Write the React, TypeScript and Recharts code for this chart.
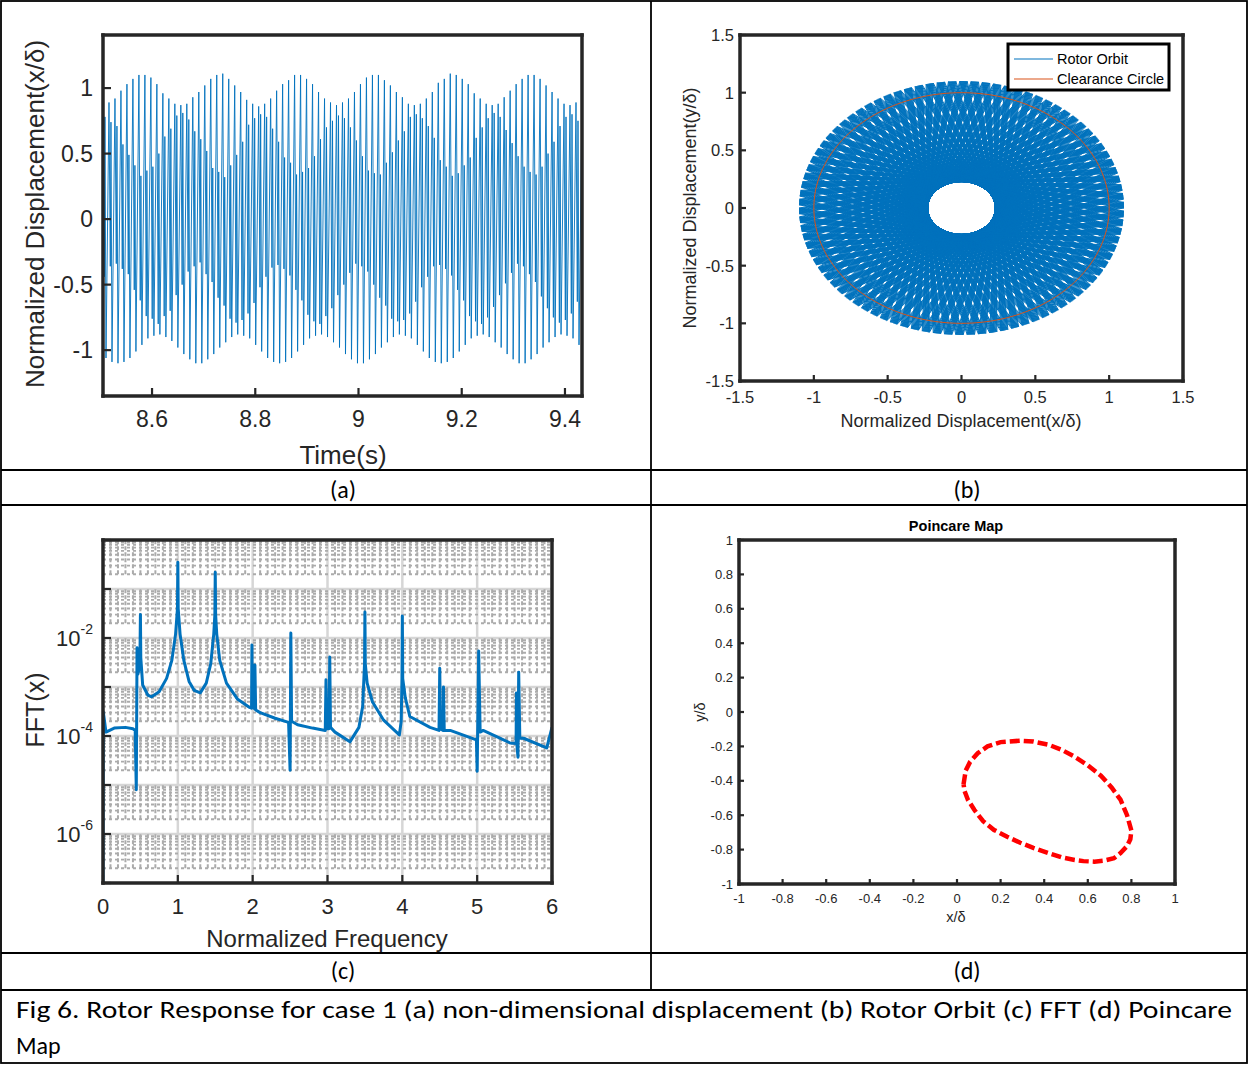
import React from "react";
import { Line, LineChart, XAxis, YAxis } from "recharts";

const INK = "#262626";
const BLUE = "#0072BD";
const ORANGE = "#D95319";
const AXIS_FONT = "'Liberation Sans', Arial, Helvetica, sans-serif";
const DOC_FONT = "Carlito, Calibri, 'Open Sans', 'Noto Sans', sans-serif";

// =============================================================================
// (a) displacement trace — per-cycle extremes
// =============================================================================

const T_START = 8.505;
const T_END = 9.433;
const TIME_TICKS = [8.6, 8.8, 9, 9.2, 9.4];
const DISP_TICKS = [-1, -0.5, 0, 0.5, 1];

// top of each cycle (81 values: one more than the troughs to close the trace)
const PEAKS = [
  0.87, 0.89, 0.92, 0.98, 1.03, 1.07, 1.1, 1.1, 1.08, 1.03, 0.96, 0.92, 0.88,
  0.87, 0.88, 0.93, 0.97, 1.02, 1.07, 1.1, 1.11, 1.07, 1.02, 0.97, 0.91, 0.88,
  0.86, 0.88, 0.92, 0.98, 1.03, 1.06, 1.1, 1.1, 1.07, 1.03, 0.97, 0.92, 0.89,
  0.87, 0.89, 0.92, 0.97, 1.03, 1.08, 1.1, 1.1, 1.06, 1.02, 0.97, 0.93, 0.88,
  0.87, 0.88, 0.92, 0.97, 1.04, 1.07, 1.11, 1.1, 1.07, 1.03, 0.96, 0.92, 0.88,
  0.87, 0.88, 0.93, 0.98, 1.03, 1.07, 1.1, 1.1, 1.07, 1.02, 0.97, 0.92, 0.88,
  0.87, 0.89, 0.92,
];

// bottom of each cycle
const TROUGHS = [
  -1.06, -1.09, -1.1, -1.09, -1.06, -1.01, -0.96, -0.91, -0.89, -0.88,
  -0.9, -0.93, -0.98, -1.03, -1.07, -1.1, -1.1, -1.07, -1.03, -0.98,
  -0.94, -0.9, -0.88, -0.89, -0.91, -0.96, -1.01, -1.06, -1.09, -1.1,
  -1.09, -1.06, -1.01, -0.96, -0.91, -0.89, -0.88, -0.9, -0.94, -0.98,
  -1.03, -1.07, -1.1, -1.1, -1.07, -1.03, -0.98, -0.94, -0.9, -0.88,
  -0.89, -0.91, -0.96, -1.01, -1.06, -1.09, -1.1, -1.09, -1.06, -1.01,
  -0.96, -0.91, -0.89, -0.88, -0.9, -0.94, -0.98, -1.03, -1.07, -1.1,
  -1.1, -1.07, -1.03, -0.98, -0.94, -0.9, -0.88, -0.89, -0.91, -0.96,
];

// inner kink on the way down: low turning point, then the partial rebound
const DIPS = [
  -0.44, -0.36, -0.34, -0.38, -0.42, -0.54, -0.62, -0.74, -0.76, -0.8,
  -0.74, -0.7, -0.58, -0.5, -0.4, -0.36, -0.33, -0.42, -0.48, -0.6,
  -0.66, -0.76, -0.79, -0.77, -0.72, -0.64, -0.52, -0.44, -0.37, -0.35,
  -0.38, -0.43, -0.54, -0.62, -0.73, -0.78, -0.8, -0.74, -0.68, -0.58,
  -0.5, -0.41, -0.34, -0.36, -0.4, -0.5, -0.6, -0.66, -0.76, -0.78,
  -0.77, -0.72, -0.63, -0.52, -0.44, -0.36, -0.35, -0.38, -0.43, -0.54,
  -0.62, -0.74, -0.78, -0.8, -0.75, -0.67, -0.58, -0.49, -0.41, -0.34,
  -0.36, -0.42, -0.48, -0.59, -0.68, -0.75, -0.79, -0.77, -0.72, -0.63,
];

const REBOUNDS = [
  0.78, 0.74, 0.71, 0.57, 0.49, 0.41, 0.33, 0.37, 0.4, 0.5, 0.63, 0.69, 0.79,
  0.81, 0.76, 0.67, 0.61, 0.52, 0.39, 0.36, 0.32, 0.41, 0.49, 0.59, 0.72, 0.77,
  0.8, 0.78, 0.69, 0.59, 0.47, 0.43, 0.34, 0.36, 0.39, 0.48, 0.61, 0.7, 0.75,
  0.79, 0.77, 0.7, 0.6, 0.48, 0.37, 0.35, 0.34, 0.43, 0.51, 0.6, 0.67, 0.78,
  0.8, 0.77, 0.71, 0.62, 0.45, 0.4, 0.33, 0.35, 0.41, 0.47, 0.62, 0.7, 0.77,
  0.81, 0.78, 0.68, 0.58, 0.48, 0.4, 0.36, 0.34, 0.4, 0.5, 0.59, 0.71, 0.78,
  0.8, 0.75,
];

const CYCLE = (T_END - T_START) / TROUGHS.length;
const traceData: { x: number; y: number }[] = [];
TROUGHS.forEach((trough, i) => {
  const t = T_START + i * CYCLE;
  traceData.push({ x: t, y: PEAKS[i] });
  traceData.push({ x: t + 0.22 * CYCLE, y: DIPS[i] });
  traceData.push({ x: t + 0.33 * CYCLE, y: REBOUNDS[i] });
  traceData.push({ x: t + 0.5 * CYCLE, y: trough });
});
traceData.push({ x: T_END, y: PEAKS[TROUGHS.length] });

// =============================================================================
// (b) rotor orbit — rim-to-rim strokes that skirt the inner hole
// =============================================================================

const ORBIT_TICKS = [-1.5, -1, -0.5, 0, 0.5, 1, 1.5];
// angular position (deg) of each tooth on the rim
const TOOTH_ANGLES = [
  0, 4, 8, 12, 16, 20, 24, 28, 32, 36, 40, 44, 48, 52, 56, 60, 64, 68, 72, 76,
  80, 84, 88, 92, 96, 100, 104, 108, 112, 116, 120, 124, 128, 132, 136, 140,
  144, 148, 152, 156, 160, 164, 168, 172, 176, 180, 184, 188, 192, 196, 200,
  204, 208, 212, 216, 220, 224, 228, 232, 236, 240, 244, 248, 252, 256, 260,
  264, 268, 272, 276, 280, 284, 288, 292, 296, 300, 304, 308, 312, 316, 320,
  324, 328, 332, 336, 340, 344, 348, 352, 356,
];
// repeated visits of a tooth, each slightly rotated (deg)
const TOOTH_PASSES = [0, 0.33, 0.66, 1, 1.33, 1.66, 2, 2.33, 2.6];
const RIM_RADIUS = 1.1;
const STROKE_SWEEP = 204; // deg between the two rim teeth joined by one stroke
const CLEARANCE_RADIUS = 1;

const polar = (r: number, deg: number) => {
  const a = (deg * Math.PI) / 180;
  return { x: r * Math.cos(a), y: r * Math.sin(a) };
};

const orbitData: { x: number | null; y: number | null }[] = [];
TOOTH_ANGLES.forEach((phi) =>
  TOOTH_PASSES.forEach((d) => {
    orbitData.push(polar(RIM_RADIUS, phi + d));
    orbitData.push(polar(RIM_RADIUS, phi + d + STROKE_SWEEP));
    orbitData.push({ x: null, y: null });
  })
);

const circleData = Array.from({ length: 181 }, (_, k) =>
  polar(CLEARANCE_RADIUS, k * 2)
);

// =============================================================================
// (c) FFT — log amplitude against normalized frequency
// =============================================================================

const FREQ_TICKS = [0, 1, 2, 3, 4, 5, 6];
const AMP_TICKS = [1e-7, 1e-6, 1e-5, 1e-4, 1e-3, 1e-2, 1e-1, 1];

const FFT_FREQ = [
  0, 0.004, 0.04, 0.15, 0.3, 0.4, 0.43, 0.445, 0.455, 0.465, 0.485, 0.495, 0.5,
  0.505, 0.53, 0.6, 0.65, 0.75, 0.85, 0.92, 0.97, 0.995, 1, 1.005, 1.03, 1.08,
  1.15, 1.22, 1.3, 1.38, 1.44, 1.48, 1.495, 1.5, 1.505, 1.52, 1.56, 1.65, 1.8,
  1.95, 1.985, 1.99, 1.995, 2.025, 2.03, 2.04, 2.1, 2.3, 2.48, 2.5, 2.51, 2.52,
  2.6, 2.8, 2.97, 2.98, 2.99, 3.02, 3.03, 3.04, 3.1, 3.3, 3.42, 3.47, 3.495,
  3.5, 3.505, 3.53, 3.6, 3.75, 3.96, 3.985, 3.995, 4, 4.005, 4.02, 4.04, 4.1,
  4.37, 4.49, 4.5, 4.51, 4.545, 4.55, 4.56, 4.64, 4.99, 5, 5.02, 5.04, 5.08,
  5.44, 5.52, 5.525, 5.53, 5.545, 5.555, 5.57, 5.62, 5.93, 6,
];
const FFT_AMP = [
  1e-7, 3.1e-4, 1.2e-4, 1.45e-4, 1.5e-4, 1.4e-4, 1.3e-4, 8e-6, 6.3e-3, 1.8e-3,
  2.5e-3, 6e-3, 3e-2, 4e-3, 1.1e-3, 6.8e-4, 6.3e-4, 8e-4, 1.5e-3, 3.5e-3,
  1.2e-2, 4e-2, 0.35, 4e-2, 1.2e-2, 3.5e-3, 1.3e-3, 8.5e-4, 7.6e-4, 1.2e-3,
  3e-3, 1.2e-2, 3e-2, 0.22, 3e-2, 1.2e-2, 3.5e-3, 1.2e-3, 5.6e-4, 3.9e-4,
  3.7e-4, 7.2e-3, 4e-4, 3.6e-4, 2.8e-3, 3.4e-4, 3e-4, 2.3e-4, 1.9e-4, 2e-5,
  1.26e-2, 2e-4, 1.7e-4, 1.45e-4, 1.3e-4, 1.4e-3, 1.4e-4, 1.4e-4, 4.1e-3,
  1.5e-4, 1.2e-4, 7.6e-5, 1.5e-4, 4e-4, 3e-3, 3.4e-2, 3e-3, 1.2e-3, 5e-4,
  2.1e-4, 1.05e-4, 2e-4, 1.5e-3, 2.8e-2, 1.5e-3, 1e-3, 6e-4, 2.5e-4, 1.5e-4,
  1.3e-4, 2.4e-3, 1.4e-4, 1.3e-4, 1e-3, 1.3e-4, 1.3e-4, 8.3e-5, 1.9e-5, 5.4e-3,
  1.2e-4, 1.3e-4, 7.2e-5, 7e-5, 7.5e-4, 7e-5, 3.7e-5, 2e-3, 9e-5, 9e-5, 5.7e-5,
  1.5e-4,
];
const fftData = FFT_FREQ.map((f, i) => ({ x: f, y: FFT_AMP[i] }));

// grid: solid majors, dotted minors (vertical minors only above 2·10^k)
type Pt = { x: number; y: number | null };
const gridMajor: Pt[] = [];
FREQ_TICKS.slice(1, -1).forEach((f) =>
  gridMajor.push({ x: f, y: 1e-7 }, { x: f, y: 1 }, { x: f, y: null })
);
AMP_TICKS.slice(1, -1).forEach((v) =>
  gridMajor.push({ x: 0, y: v }, { x: 6, y: v }, { x: 6, y: null })
);
const gridMinorH: Pt[] = [];
const gridMinorV: Pt[] = [];
for (let e = -7; e <= -1; e++) {
  for (let m = 2; m <= 9; m++) {
    const v = m * Math.pow(10, e);
    gridMinorH.push({ x: 0, y: v }, { x: 6, y: v }, { x: 6, y: null });
  }
  for (let k = 1; k < 60; k++) {
    if (k % 10 === 0) continue;
    const f = k / 10;
    gridMinorV.push(
      { x: f, y: 2 * Math.pow(10, e) },
      { x: f, y: Math.pow(10, e + 1) },
      { x: f, y: null }
    );
  }
}

// =============================================================================
// (d) Poincare map — the dashed closed loop
// =============================================================================

const POINCARE_TICKS = [-1, -0.8, -0.6, -0.4, -0.2, 0, 0.2, 0.4, 0.6, 0.8, 1];
const POINCARE_X = [
  0.03, 0.04, 0.06, 0.095, 0.14, 0.2, 0.29, 0.35, 0.42, 0.48, 0.54, 0.6, 0.66,
  0.71, 0.75, 0.78, 0.8, 0.795, 0.78, 0.75, 0.72, 0.67, 0.63, 0.58, 0.54, 0.48,
  0.42, 0.35, 0.29, 0.23, 0.17, 0.12, 0.08, 0.05, 0.035, 0.03,
];
const POINCARE_Y = [
  -0.42, -0.34, -0.29, -0.24, -0.2, -0.175, -0.167, -0.172, -0.19, -0.22, -0.26,
  -0.31, -0.37, -0.44, -0.51, -0.6, -0.69, -0.74, -0.78, -0.82, -0.85, -0.865,
  -0.87, -0.867, -0.86, -0.845, -0.82, -0.79, -0.76, -0.725, -0.686, -0.635,
  -0.57, -0.51, -0.46, -0.42,
];
const poincareData = POINCARE_X.map((x, i) => ({ x, y: POINCARE_Y[i] }));

// =============================================================================
// MATLAB-style box: thick frame, inward ticks on all four sides
// =============================================================================

type BoxOpts = {
  xDomain: [number, number];
  yDomain: [number, number];
  xTicks: number[];
  yTicks: number[];
  left: number;
  right: number;
  top: number;
  bottom: number;
  tick: number;
  xGap: number;
  yGap: number;
  font: number;
  log?: boolean;
  yTick?: any;
};

function boxAxes(o: BoxOpts) {
  const frame = { stroke: INK, strokeWidth: 3.5, strokeLinecap: "square" as const };
  const tl = { stroke: INK, strokeWidth: 2.2 };
  const label = { fontSize: o.font, fill: INK, fontFamily: AXIS_FONT };
  const scale = o.log ? "log" : "auto";
  return [
    <XAxis key="xb" xAxisId="b" type="number" dataKey="x" domain={o.xDomain}
      ticks={o.xTicks} interval={0} allowDataOverflow height={o.bottom}
      tickSize={-o.tick} tickMargin={o.xGap} axisLine={frame} tickLine={tl} tick={label} />,
    <XAxis key="xt" xAxisId="t" orientation="top" type="number" dataKey="x"
      domain={o.xDomain} ticks={o.xTicks} interval={0} allowDataOverflow
      height={o.top} tickSize={-o.tick} axisLine={frame} tickLine={tl} tick={false} />,
    <YAxis key="yl" yAxisId="l" type="number" scale={scale} domain={o.yDomain}
      ticks={o.yTicks} interval={0} allowDataOverflow width={o.left}
      tickSize={-o.tick} tickMargin={o.yGap} axisLine={frame} tickLine={tl}
      tick={o.yTick ?? label} />,
    <YAxis key="yr" yAxisId="r" orientation="right" type="number" scale={scale}
      domain={o.yDomain} ticks={o.yTicks} interval={0} allowDataOverflow
      width={o.right} tickSize={-o.tick} axisLine={frame} tickLine={tl} tick={false} />,
    <Line key="anchor" xAxisId="t" yAxisId="r" dataKey="y" stroke="none" dot={false}
      activeDot={false} isAnimationActive={false}
      data={[{ x: o.xDomain[0], y: o.yDomain[0] }, { x: o.xDomain[1], y: o.yDomain[1] }]} />,
  ];
}

function LogTick(props: any) {
  const { x, y, payload } = props;
  const e = Math.round(Math.log10(payload.value));
  if (e !== -2 && e !== -4 && e !== -6) return <g />;
  return (
    <text x={x} y={y} textAnchor="end" fill={INK} fontFamily={AXIS_FONT} fontSize={22}>
      <tspan dy={8}>10</tspan>
      <tspan dy={-12} fontSize={14}>{e}</tspan>
    </text>
  );
}

const NO_MARGIN = { top: 0, right: 0, bottom: 0, left: 0 };

function TracePanel() {
  return (
    <LineChart width={650} height={470} margin={NO_MARGIN}>
      {boxAxes({
        xDomain: [T_START, T_END], yDomain: [-1.35, 1.405],
        xTicks: TIME_TICKS, yTicks: DISP_TICKS,
        left: 103, right: 68, top: 35, bottom: 74,
        tick: 8, xGap: 23, yGap: 18, font: 23,
      })}
      <Line xAxisId="b" yAxisId="l" data={traceData} dataKey="y" type="linear"
        stroke={BLUE} strokeWidth={0.9} dot={false} activeDot={false}
        isAnimationActive={false} />
    </LineChart>
  );
}

function OrbitPanel() {
  return (
    <LineChart width={596} height={470} margin={NO_MARGIN}>
      {boxAxes({
        xDomain: [-1.5, 1.5], yDomain: [-1.5, 1.5],
        xTicks: ORBIT_TICKS, yTicks: ORBIT_TICKS,
        left: 89, right: 64, top: 35, bottom: 89,
        tick: 6, xGap: 16, yGap: 12, font: 16.5,
      })}
      <Line xAxisId="b" yAxisId="l" data={orbitData} dataKey="y" type="linear"
        stroke={BLUE} strokeWidth={1} dot={false} activeDot={false}
        isAnimationActive={false} />
      <Line xAxisId="b" yAxisId="l" data={circleData} dataKey="y" type="linear"
        stroke={ORANGE} strokeWidth={1} dot={false} activeDot={false}
        isAnimationActive={false} />
    </LineChart>
  );
}

function FftPanel() {
  return (
    <LineChart width={650} height={447} margin={NO_MARGIN}>
      {boxAxes({
        xDomain: [0, 6], yDomain: [1e-7, 1], log: true,
        xTicks: FREQ_TICKS, yTicks: AMP_TICKS,
        left: 103, right: 98, top: 34, bottom: 70,
        tick: 8, xGap: 23, yGap: 18, font: 22, yTick: <LogTick />,
      })}
      <Line xAxisId="b" yAxisId="l" data={gridMajor} dataKey="y" stroke="#d6d6d6"
        strokeWidth={2.5} dot={false} activeDot={false} isAnimationActive={false} />
      <Line xAxisId="b" yAxisId="l" data={gridMinorH} dataKey="y" stroke="#ababab"
        strokeWidth={1.8} strokeDasharray="3 3" dot={false} activeDot={false}
        isAnimationActive={false} />
      <Line xAxisId="b" yAxisId="l" data={gridMinorV} dataKey="y" stroke="#ababab"
        strokeWidth={2} strokeDasharray="4 2" dot={false} activeDot={false}
        isAnimationActive={false} />
      <Line xAxisId="b" yAxisId="l" data={fftData} dataKey="y" type="linear"
        stroke={BLUE} strokeWidth={3} strokeLinejoin="round" dot={false}
        activeDot={false} isAnimationActive={false} />
    </LineChart>
  );
}

function PoincarePanel() {
  return (
    <LineChart width={596} height={447} margin={NO_MARGIN}>
      {boxAxes({
        xDomain: [-1, 1], yDomain: [-1, 1],
        xTicks: POINCARE_TICKS, yTicks: POINCARE_TICKS,
        left: 88, right: 72, top: 34, bottom: 69,
        tick: 5, xGap: 15, yGap: 11, font: 13,
      })}
      <Line xAxisId="b" yAxisId="l" data={poincareData} dataKey="y" type="linear"
        stroke="#ff0000" strokeWidth={4.5} strokeDasharray="10 4" dot={false}
        activeDot={false} isAnimationActive={false} />
    </LineChart>
  );
}

const at = (left: number, top: number): React.CSSProperties => ({
  position: "absolute",
  left,
  top,
});

function Frame() {
  const rule = { stroke: "#000", strokeWidth: 1.8 };
  const axisTitle = { fill: INK, fontFamily: AXIS_FONT, textAnchor: "middle" as const, dominantBaseline: "central" as const };
  const doc = { fill: "#000", fontFamily: DOC_FONT, fontSize: 24 };
  return (
    <svg width={1249} height={1065} style={at(0, 0)}>
      <rect x={1} y={1} width={1246} height={1062} fill="none" {...rule} />
      <line x1={1} x2={1247} y1={470} y2={470} {...rule} />
      <line x1={1} x2={1247} y1={505} y2={505} {...rule} />
      <line x1={1} x2={1247} y1={953} y2={953} {...rule} />
      <line x1={1} x2={1247} y1={990} y2={990} {...rule} />
      <line x1={651} x2={651} y1={1} y2={990} {...rule} />

      <text {...axisTitle} fontSize={26} x={35} y={214} transform="rotate(-90 35 214)">
        Normalized Displacement(x/δ)
      </text>
      <text {...axisTitle} fontSize={26} x={343} y={455}>Time(s)</text>

      <text {...axisTitle} fontSize={18} x={690} y={208} transform="rotate(-90 690 208)">
        Normalized Displacement(y/δ)
      </text>
      <text {...axisTitle} fontSize={18} x={961} y={421}>Normalized Displacement(x/δ)</text>

      <text {...axisTitle} fontSize={25} x={35} y={710} transform="rotate(-90 35 710)">FFT(x)</text>
      <text {...axisTitle} fontSize={24} x={327} y={938}>Normalized Frequency</text>

      <text {...axisTitle} fontSize={14.5} fontWeight="bold" fill="#000" x={956} y={526}>Poincare Map</text>
      <text {...axisTitle} fontSize={14.5} x={700} y={712} transform="rotate(-90 700 712)">y/δ</text>
      <text {...axisTitle} fontSize={14.5} x={956} y={917}>x/δ</text>

      <text {...doc} textAnchor="middle" x={343} y={498}>(a)</text>
      <text {...doc} textAnchor="middle" x={967} y={498}>(b)</text>
      <text {...doc} textAnchor="middle" x={343} y={979}>(c)</text>
      <text {...doc} textAnchor="middle" x={967} y={979}>(d)</text>
      <text {...doc} x={16} y={1018} textLength={1216} lengthAdjust="spacingAndGlyphs">
        Fig 6. Rotor Response for case 1 (a)  non-dimensional displacement (b) Rotor Orbit (c) FFT (d) Poincare
      </text>
      <text {...doc} x={16} y={1054}>Map</text>
    </svg>
  );
}

function OrbitLegend() {
  const txt = { fill: "#000", fontFamily: AXIS_FONT, fontSize: 14.5 };
  return (
    <svg width={1249} height={120} style={at(0, 0)}>
      <rect x={1008} y={44} width={161} height={46} fill="#fff" stroke="#000" strokeWidth={3} />
      <line x1={1014} x2={1053} y1={59} y2={59} stroke={BLUE} strokeWidth={1.2} />
      <line x1={1014} x2={1053} y1={79} y2={79} stroke={ORANGE} strokeWidth={1.2} />
      <text {...txt} x={1057} y={64}>Rotor Orbit</text>
      <text {...txt} x={1057} y={84}>Clearance Circle</text>
    </svg>
  );
}

export default function App() {
  return (
    <div style={{ ...at(0, 0), width: 1249, height: 1065, background: "#fff" }}>
      <Frame />
      <div style={at(0, 0)}><TracePanel /></div>
      <div style={at(651, 0)}><OrbitPanel /></div>
      <div style={at(0, 506)}><FftPanel /></div>
      <div style={at(651, 506)}><PoincarePanel /></div>
      <OrbitLegend />
    </div>
  );
}
